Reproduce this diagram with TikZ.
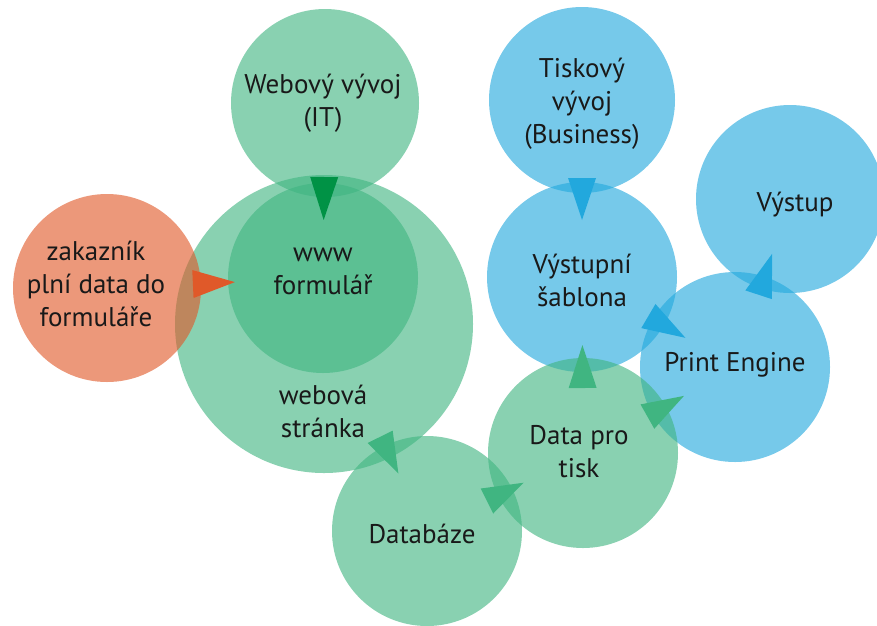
\documentclass[tikz,border=0pt]{standalone}
\usepackage{fontspec}
\setmainfont{PT Sans}
\usetikzlibrary{calc}
\definecolor{grn}{RGB}{64,181,129}
\definecolor{blu}{RGB}{34,168,221}
\definecolor{org}{RGB}{224,89,41}
\definecolor{dgrn}{RGB}{0,146,69}
\definecolor{txt}{RGB}{25,25,25}
\tikzset{
  bubble/.style={circle, inner sep=0pt, minimum size=#1, fill opacity=0.62, draw=none},
  lbl/.style={align=center, font=\fontsize{27}{33}\selectfont, text=txt, inner sep=0pt},
  tri/.style={draw=none},
}
\newcommand\arrowtri[5]{% colour, from, to, base distance, tip distance
  \path ($(#2)!#4pt!(#3)$) coordinate (tb) ($(#2)!#5pt!(#3)$) coordinate (tt);
  \fill[tri,#1] ($(tb)!14pt!90:(tt)$) -- (tt) -- ($(tb)!14pt!-90:(tt)$) -- cycle;}
\begin{document}
\begin{tikzpicture}[x=1pt,y=-1pt]
\useasboundingbox (0,0) rectangle (877,625);
\clip (0,0) rectangle (877,625);
% blue bubbles
\node[bubble=186pt, fill=blu] (tisk) at (582,100) {};
\node[bubble=190pt, fill=blu] (sabl) at (582,277) {};
\node[bubble=188pt, fill=blu] (vyst) at (790,199) {};
\node[bubble=190pt, fill=blu] (pe) at (735,367) {};
% green bubbles
\node[bubble=188pt, fill=grn] (webdev) at (325,103) {};
\node[bubble=298pt, fill=grn] (webpage) at (324,324) {};
\node[bubble=190pt, fill=grn] (form) at (323,278) {};
\node[bubble=190pt, fill=grn] (data) at (583,453) {};
\node[bubble=190pt, fill=grn] (db) at (427,531) {};
% orange bubble
\node[bubble=188pt, fill=org] (zak) at (107,288) {};
% arrow heads
\arrowtri{dgrn}{webdev}{form}{74}{117}
\arrowtri{org}{zak}{form}{86}{128}
\arrowtri{grn}{webpage}{db}{126}{167}
\arrowtri{grn}{db}{data}{67}{108}
\arrowtri{grn}{data}{sabl}{65}{108}
\arrowtri{grn}{data}{pe}{74}{116}
\arrowtri{blu}{tisk}{sabl}{78}{120}
\arrowtri{blu}{sabl}{pe}{77}{120}
\arrowtri{blu}{pe}{vyst}{76}{119}
% labels
\node[lbl] (twebdev) at (323,103) {Webový vývoj\\(IT)};
\node[lbl] (ttisk) at (582,104) {Tiskový\\vývoj\\(Business)};
\node[lbl] (tform) at (323,271) {www\\formulář};
\node[lbl] (tzak) at (96,284) {zakazník\\plní data do\\formuláře};
\node[lbl] (twebpage) at (323,411) {webová\\stránka};
\node[lbl] (tsabl) at (582,280) {Výstupní\\šablona};
\node[lbl] (tvyst) at (795,205) {Výstup};
\node[lbl] (tpe) at (735,365) {Print Engine};
\node[lbl] (tdata) at (579,452) {Data pro\\tisk};
\node[lbl] (tdb) at (422,534) {Databáze};
\end{tikzpicture}
\end{document}
